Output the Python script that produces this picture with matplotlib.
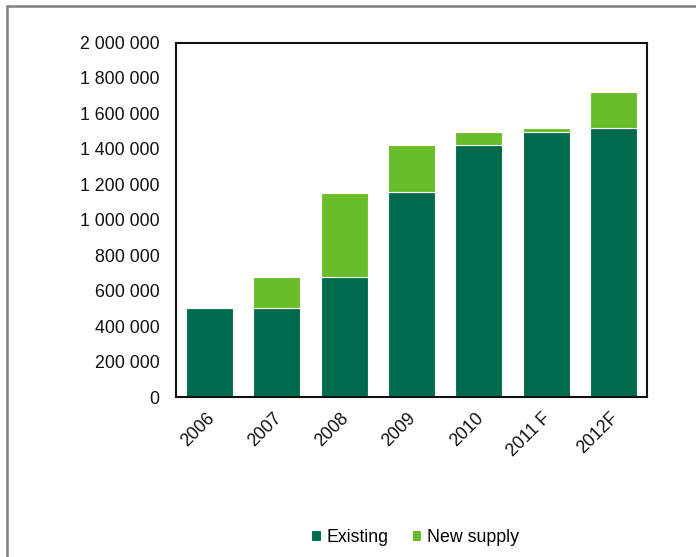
import matplotlib
matplotlib.use("Agg")
import matplotlib.pyplot as plt
from matplotlib.patches import Rectangle
import matplotlib.transforms as mtransforms
import numpy as np

plt.rcParams['font.family'] = ['Liberation Sans', 'DejaVu Sans']

categories = ["2006", "2007", "2008", "2009", "2010", "2011 F", "2012F"]
existing = [500000, 500000, 676000, 1157000, 1424000, 1497000, 1517000]
new_supply = [0, 176000, 477000, 263000, 71000, 18000, 203000]
yticks = [0, 200000, 400000, 600000, 800000, 1000000, 1200000, 1400000, 1600000, 1800000, 2000000]

c_exist = "#006A4E"
c_new = "#6ABD2A"

W, H = 696, 557
fig = plt.figure(figsize=(W/100, H/100), dpi=100)
ax = fig.add_axes([176/W, 1-397/H, (647-176)/W, (397-42.5)/H])

x = np.arange(len(categories))
ax.bar(x, existing, width=0.7, color=c_exist, edgecolor="white", linewidth=0.8, label="Existing")
ax.bar(x, new_supply, width=0.7, bottom=existing, color=c_new, edgecolor="white", linewidth=0.8, label="New supply")

ax.set_xlim(-0.5, len(categories)-0.5)
ax.set_ylim(0, 2000000)
ax.set_yticks(yticks)
ax.set_yticklabels([f"{v:,}".replace(",", " ") for v in yticks])
ax.set_xticks(x)
ax.set_xticklabels(categories, rotation=45, ha="right", rotation_mode="anchor")
ax.tick_params(axis="both", length=0, labelsize=12.8, colors="#111111")
ax.tick_params(axis="y", pad=12)
ax.tick_params(axis="x", pad=9)
offset = mtransforms.ScaledTranslation(-4/100, 0, fig.dpi_scale_trans)
for lbl in ax.get_xticklabels():
    lbl.set_transform(lbl.get_transform() + offset)
for s in ax.spines.values():
    s.set_linewidth(1.5)
    s.set_color("#111111")

leg = fig.legend(loc="center", bbox_to_anchor=(415/W, 1-537/H), ncol=2, frameon=False,
                 fontsize=12.8, handlelength=0.55, handleheight=0.55, handletextpad=0.3,
                 columnspacing=1.3)

fig.patches.append(Rectangle((7/W, -0.1), 1.2, 1-6/H+0.1, transform=fig.transFigure,
                             fill=False, edgecolor="#808080", linewidth=1.8))

fig.savefig("out.png", dpi=100)
